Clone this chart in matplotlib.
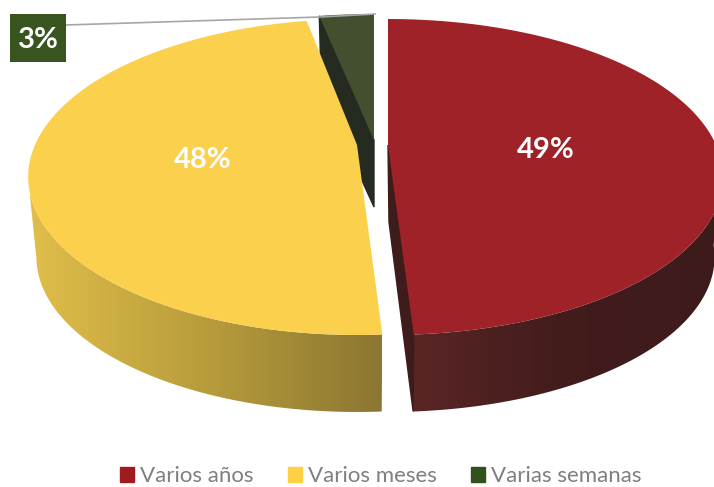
import numpy as np
from matplotlib import pyplot as plt
from matplotlib.colors import LinearSegmentedColormap
from matplotlib.patches import Polygon, Rectangle

plt.rcParams['font.family'] = ['Lato', 'DejaVu Sans']

# data
labels = ['Varios años', 'Varios meses', 'Varias semanas']
values = [49, 48, 3]

# slice look and place (pixels of the picture)
top_colors = ['#9E2227', '#FBD04C', '#434F2F']
legend_colors = ['#9E1B20', '#FFD044', '#33501F']
tips = [(388, 145), (357, 145), (374, 140)]
widths = [328, 322, 350]
label_pos = [(546, 150), (203, 160), (38, 40)]

# perspective of the pie disc
a = 151.5
k = 0.2025
centre_y = 177
depth = 80


def rim(theta, i):
    X = np.sin(theta)
    Y = np.cos(theta)
    w = 1 + k * Y
    return tips[i][0] + widths[i] * X / w, tips[i][1] - a * Y / w


def lower(x, y, i):
    return tips[i][0] + 0.975 * (x - tips[i][0]), y + depth - 3 * (y - centre_y) / 158


def side(t0, t1, i, colors, xrange):
    # outer wall of a slice, filled with a left to right gradient
    theta = np.linspace(t0, t1, 200)
    x, y = rim(theta, i)
    x2, y2 = lower(x, y, i)
    pts = np.vstack([np.c_[x, y], np.c_[x2, y2][::-1]])
    poly = Polygon(pts, closed=True, fc='none', ec='none', transform=ax.transData)
    ax.add_patch(poly)
    cmap = LinearSegmentedColormap.from_list('wall', colors)
    grad = np.linspace(0, 1, 256).reshape(1, -1)
    im = ax.imshow(grad, cmap=cmap, extent=[xrange[0], xrange[1], 487, 0], aspect='auto', zorder=2)
    im.set_clip_path(poly)


fig = plt.figure(figsize=(7.14, 4.87), dpi=100)
ax = fig.add_axes([0, 0, 1, 1])

edges = np.cumsum([0] + values) / sum(values) * 2 * np.pi

# walls
side(edges[0] + 1.7, edges[1], 0, ['#3E1B1B', '#431C1C', '#5C2626'], (714, 400))
side(edges[1], edges[1] + 1.42, 1, ['#E0BE4A', '#B89C3C', '#8C7632'], (30, 382))

# inner cut faces
ex, ey = rim(edges[1], 0)
lx, ly = lower(ex, ey, 0)
ax.fill([tips[0][0], ex, lx, tips[0][0] + 1],
        [tips[0][1], ey, ly, tips[0][1] + 77], color='#3F1C1C', zorder=3)
gx, gy = rim(edges[2], 2)
ax.fill([tips[2][0], gx, gx + 2, tips[2][0]],
        [tips[2][1], gy, gy + 75, tips[2][1] + 67], color='#262B22', zorder=3)

# top faces
for i in range(len(values)):
    theta = np.linspace(edges[i], edges[i + 1], 300)
    x, y = rim(theta, i)
    ax.fill(np.r_[tips[i][0], x], np.r_[tips[i][1], y], color=top_colors[i], lw=0, zorder=4)

# leader line for the small slice
ex2, ey2 = rim(edges[3], 2)
ax.plot([66, 320, ex2 + 1], [25, 17, ey2], color='#A6A6A6', lw=1.2, zorder=5)

# data labels
ax.add_patch(Rectangle((10, 14), 56, 48, fc='#38541F', ec='none', zorder=6))
for i in range(len(values)):
    ax.text(label_pos[i][0], label_pos[i][1], f'{values[i]}%', color='white', fontsize=21,
            fontweight='bold', ha='center', va='center', zorder=7)

ax.set_xlim(0, 714)
ax.set_ylim(487, 0)
ax.axis('off')

handles = [plt.Rectangle((0, 0), 1, 1, color=c) for c in legend_colors]
fig.legend(handles, labels, ncol=3, loc='lower center', bbox_to_anchor=(0.533, -0.04), frameon=False,
           fontsize=16, labelcolor='#7F7F7F', handlelength=0.63, handleheight=0.63,
           handletextpad=0.27, columnspacing=1.55)

plt.savefig('out.png', dpi=100)
